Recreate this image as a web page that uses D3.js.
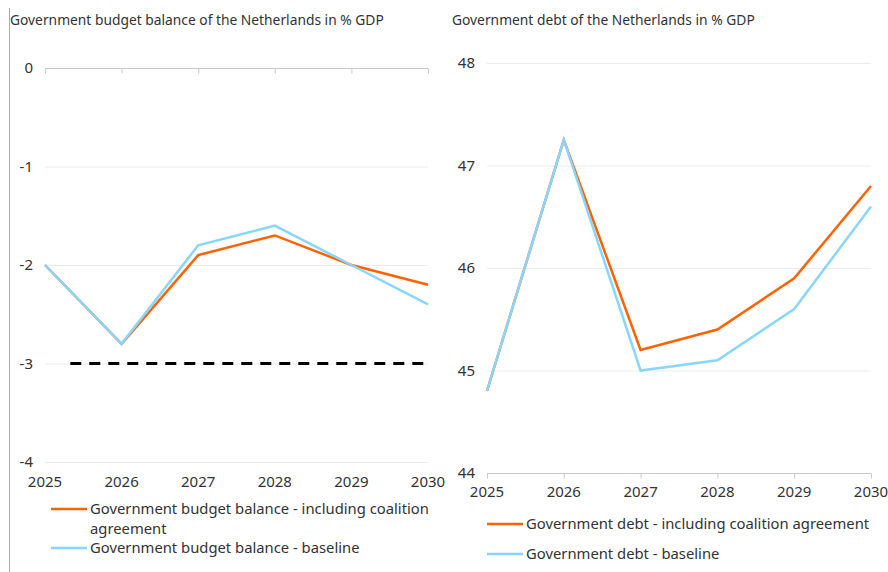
<!DOCTYPE html>
<html>
<head>
<meta charset="utf-8">
<script src="https://cdn.jsdelivr.net/npm/d3@7"></script>
<style>
  body { margin: 0; background: #fff; }
  svg text { font-family: "Noto Sans", sans-serif; fill: #333; }
</style>
</head>
<body>
<svg id="chart" width="888" height="572"></svg>
<script>
// Years on the horizontal axis (shared by both panels)
const years = [2025, 2026, 2027, 2028, 2029, 2030];

// Budget balance, % of GDP
const balanceCoalition = [-2.0, -2.8, -1.9, -1.7, -2.0, -2.2];
const balanceBaseline  = [-2.0, -2.8, -1.8, -1.6, -2.0, -2.4];
const balanceTicks = [0, -1, -2, -3, -4];
// 3% deficit reference
const normValue = -3;
const normYears = [2025.33, 2030];

// Government debt, % of GDP
const debtCoalition = [44.8, 47.25, 45.2, 45.4, 45.9, 46.8];
const debtBaseline  = [44.8, 47.25, 45.0, 45.1, 45.6, 46.6];
const debtTicks = [48, 47, 46, 45, 44];

const ORANGE = "#ff6200";
const BLUE = "#89d6fd";

const svg = d3.select("#chart");

// thin separator line at the far left
svg.append("line").attr("x1", 9.5).attr("x2", 9.5).attr("y1", 8).attr("y2", 572)
  .attr("stroke", "#aaa").attr("stroke-width", 1);

function panel(opt) {
  const g = svg.append("g");
  const x = d3.scaleLinear().domain([2025, 2030]).range(opt.xRange);
  const y = d3.scaleLinear().domain(opt.yDomain).range(opt.yRange);

  g.append("text").attr("x", opt.titleX).attr("y", 25)
    .attr("font-size", 13.8).text(opt.title);

  // horizontal gridlines
  g.append("g").selectAll("line").data(opt.ticks).join("line")
    .attr("x1", opt.xRange[0]).attr("x2", opt.xRange[1])
    .attr("y1", d => y(d) + 0.5).attr("y2", d => y(d) + 0.5)
    .attr("stroke", "#ececec");

  // y tick labels
  const yAxis = d3.axisLeft(y).tickValues(opt.ticks).tickSize(0).tickPadding(0)
    .tickFormat(d => d < 0 ? "-" + Math.abs(d) : d);
  g.append("g").attr("transform", `translate(${opt.xRange[0] - 12},0)`).call(yAxis)
    .call(a => a.select(".domain").remove())
    .call(a => a.selectAll("text").attr("font-size", 15).attr("font-family", null)
      .attr("fill", "#333").attr("dy", "0.3em"));

  // category axis line with ticks (crosses at opt.axisAt)
  const xAxis = d3.axisBottom(x).tickValues(years).tickSize(5).tickFormat("");
  g.append("g").attr("transform", `translate(0,${y(opt.axisAt) + 0.5})`).call(xAxis)
    .call(a => a.select(".domain").attr("stroke", "#c8c8c8").attr("d", `M${opt.xRange[0]},0H${opt.xRange[1]}`))
    .call(a => a.selectAll(".tick line").attr("stroke", "#c8c8c8"));

  // year labels along the bottom
  g.append("g").selectAll("text").data(years).join("text")
    .attr("x", d => x(d)).attr("y", opt.labelY)
    .attr("text-anchor", "middle").attr("font-size", 15)
    .text(d => d);

  if (opt.norm) {
    g.append("line")
      .attr("x1", x(normYears[0])).attr("x2", x(normYears[1]))
      .attr("y1", y(normValue)).attr("y2", y(normValue))
      .attr("stroke", "#000").attr("stroke-width", 3)
      .attr("stroke-dasharray", "11,8");
  }

  const line = d3.line().x((d, i) => x(years[i])).y(d => y(d));
  g.append("path").datum(opt.coalition).attr("d", line)
    .attr("fill", "none").attr("stroke", ORANGE).attr("stroke-width", 2.5);
  g.append("path").datum(opt.baseline).attr("d", line)
    .attr("fill", "none").attr("stroke", BLUE).attr("stroke-width", 2.5);

  // legend
  const lg = g.append("g");
  opt.legend.forEach(item => {
    lg.append("line").attr("x1", item.x).attr("x2", item.x + 36)
      .attr("y1", item.y).attr("y2", item.y)
      .attr("stroke", item.color).attr("stroke-width", 2.5);
    item.lines.forEach((t, k) => {
      lg.append("text").attr("x", item.x + 39).attr("y", item.y + 5 + k * 19.5)
        .attr("font-size", 14.8).text(t);
    });
  });
}

panel({
  title: "Government budget balance of the Netherlands in % GDP",
  titleX: 10,
  xRange: [45, 428],
  yDomain: [0, -4], yRange: [68, 462],
  ticks: balanceTicks,
  axisAt: 0,
  labelY: 487,
  norm: true,
  coalition: balanceCoalition,
  baseline: balanceBaseline,
  legend: [
    { x: 51, y: 509, color: ORANGE, lines: ["Government budget balance - including coalition", "agreement"] },
    { x: 51, y: 548, color: BLUE, lines: ["Government budget balance - baseline"] }
  ]
});

panel({
  title: "Government debt of the Netherlands in % GDP",
  titleX: 452,
  xRange: [487, 871],
  yDomain: [48, 44], yRange: [63, 473],
  ticks: debtTicks,
  axisAt: 44,
  labelY: 497,
  norm: false,
  coalition: debtCoalition,
  baseline: debtBaseline,
  legend: [
    { x: 487, y: 524, color: ORANGE, lines: ["Government debt - including coalition agreement"] },
    { x: 487, y: 554, color: BLUE, lines: ["Government debt - baseline"] }
  ]
});
</script>
</body>
</html>
